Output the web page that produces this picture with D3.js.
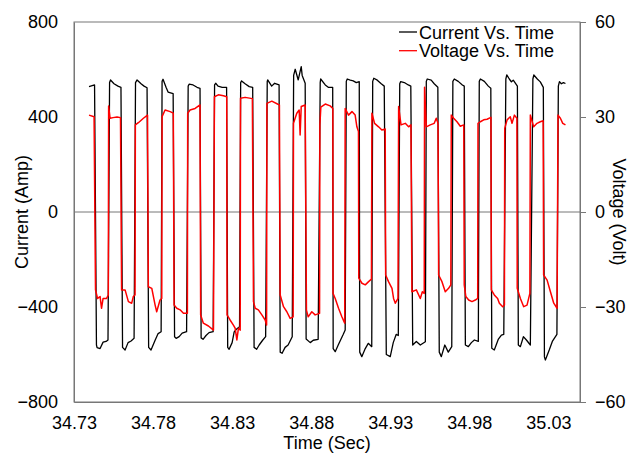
<!DOCTYPE html>
<html lang="en">
<head>
  <meta charset="UTF-8">
  <script src="https://cdn.jsdelivr.net/npm/d3@7/dist/d3.min.js"></script>
  <title>Current and Voltage</title>
  <style>
    body { margin: 0; background: #fff; }
    svg text { font-family: "Liberation Sans", Arial, sans-serif; fill: #000; }
    .trace { fill: none; stroke-linejoin: round; }
  </style>
</head>
<body>
<script>
  // values, one row per half cycle
  const currentTime = [
    34.7395, 34.7430,
    34.7442, 34.7446, 34.7465, 34.7484, 34.7503, 34.7515,
    34.7525, 34.7531, 34.7553, 34.7578, 34.7597,
    34.7607, 34.7623, 34.7642, 34.7661, 34.7680,
    34.7689, 34.7699, 34.7724, 34.7743, 34.7762,
    34.7772, 34.7787, 34.7813, 34.7832, 34.7851,
    34.7857, 34.7863, 34.7882, 34.7895, 34.7927,
    34.7936, 34.7946, 34.7965, 34.7984, 34.8012,
    34.8022, 34.8028, 34.8053, 34.8078, 34.8097,
    34.8104, 34.8116, 34.8135, 34.8154, 34.8180,
    34.8189, 34.8196, 34.8211, 34.8237, 34.8265,
    34.8272, 34.8281, 34.8300, 34.8313, 34.8325, 34.8347,
    34.8354, 34.8360, 34.8382, 34.8408, 34.8430,
    34.8439, 34.8455, 34.8471, 34.8493, 34.8512,
    34.8522, 34.8525, 34.8550, 34.8569, 34.8597,
    34.8604, 34.8616, 34.8635, 34.8654, 34.8680,
    34.8689, 34.8699, 34.8718, 34.8737, 34.8743, 34.8762,
    34.8768, 34.8794, 34.8813, 34.8844,
    34.8857, 34.8860, 34.8889, 34.8908, 34.8936,
    34.8939, 34.8952, 34.8971, 34.9003, 34.9015,
    34.9022, 34.9028, 34.9047, 34.9066, 34.9085, 34.9104,
    34.9107, 34.9120, 34.9142, 34.9161, 34.9183,
    34.9189, 34.9196, 34.9218, 34.9243, 34.9262,
    34.9275, 34.9300, 34.9319, 34.9338, 34.9351,
    34.9360, 34.9366, 34.9389, 34.9414, 34.9430,
    34.9442, 34.9465, 34.9490, 34.9522,
    34.9528, 34.9534, 34.9559, 34.9578, 34.9601,
    34.9610, 34.9623, 34.9645, 34.9667, 34.9689,
    34.9696, 34.9705, 34.9730, 34.9756, 34.9768,
    34.9775, 34.9794, 34.9813, 34.9832, 34.9857,
    34.9863, 34.9870, 34.9895, 34.9920, 34.9936,
    34.9942, 34.9958, 34.9984, 35.0003, 35.0018,
    35.0031, 35.0037, 35.0053, 35.0066, 35.0078, 35.0104,
    35.0110, 35.0123, 35.0142, 35.0161, 35.0186,
    35.0202, 35.0208, 35.0230, 35.0249, 35.0268,
    35.0275, 35.0281, 35.0306, 35.0325, 35.0354,
    35.0363, 35.0370, 35.0382, 35.0395, 35.0408
  ];
  const currentAmp = [
    528, 535,
    -560, -571, -575, -548, -545, -539,
    545, 556, 540, 530, 525,
    -570, -581, -550, -543, -532,
    545, 556, 540, 530, 523,
    -570, -581, -540, -512, -504,
    550, 559, 525, 505, 498,
    -525, -532, -525, -510, -504,
    530, 538, 535, 525, 521,
    -530, -536, -520, -508, -504,
    535, 542, 530, 525, 525,
    -570, -578, -550, -505, -495, -483,
    545, 552, 540, 528, 525,
    -570, -578, -560, -540, -525,
    550, 556, 530, 542, 535,
    -590, -595, -570, -560, -525,
    575, 601, 556, 612, 575, 542,
    -535, -550, -540, -536,
    545, 560, 535, 525, 525,
    -575, -588, -560, -515, -497,
    550, 560, 555, 552, 545, 549,
    -590, -609, -575, -553, -567,
    550, 563, 555, 540, 530,
    -600, -609, -550, -515, -520,
    540, 549, 545, 535, 530,
    -560, -545, -560, -546,
    550, 560, 555, 540, 525,
    -590, -609, -560, -590, -567,
    550, 560, 550, 535, 530,
    -560, -567, -550, -539, -545,
    550, 560, 550, 530, 521,
    -574, -581, -535, -518, -515,
    560, 577, 560, 548, 555, 530,
    -560, -567, -525, -539, -560,
    560, 577, 560, 548, 525,
    -610, -623, -580, -545, -515,
    530, 549, 540, 545, 541
  ];

  const voltageTime = [
    34.7395, 34.7427,
    34.7436, 34.7449, 34.7465, 34.7474, 34.7484, 34.7506, 34.7517,
    34.7519, 34.7528, 34.7547, 34.7572, 34.7594,
    34.7601, 34.7623, 34.7644, 34.7665, 34.7675, 34.7686,
    34.7688, 34.7707, 34.7739, 34.7765,
    34.7770, 34.7792, 34.7813, 34.7823, 34.7844, 34.7855,
    34.7857, 34.7876, 34.7908, 34.7928,
    34.7933, 34.7950, 34.7971, 34.7992, 34.8017,
    34.8019, 34.8034, 34.8066, 34.8097,
    34.8101, 34.8118, 34.8150, 34.8182,
    34.8188, 34.8213, 34.8245, 34.8266,
    34.8268, 34.8287, 34.8308, 34.8319, 34.8330, 34.8340, 34.8351,
    34.8353, 34.8382, 34.8428,
    34.8435, 34.8446, 34.8466, 34.8488, 34.8509, 34.8518,
    34.8520, 34.8551, 34.8599,
    34.8604, 34.8625, 34.8646, 34.8667, 34.8686,
    34.8688, 34.8709, 34.8724, 34.8730, 34.8737, 34.8762,
    34.8770, 34.8781, 34.8804, 34.8825, 34.8853,
    34.8855, 34.8861, 34.8889, 34.8920, 34.8937,
    34.8938, 34.8952, 34.8973, 34.8994, 34.9012,
    34.9015, 34.9036, 34.9058, 34.9078, 34.9089, 34.9099,
    34.9101, 34.9121, 34.9142, 34.9163, 34.9181,
    34.9184, 34.9201, 34.9226, 34.9247, 34.9268,
    34.9271, 34.9289, 34.9311, 34.9321, 34.9332, 34.9349,
    34.9353, 34.9368, 34.9395, 34.9416, 34.9431,
    34.9437, 34.9465, 34.9490, 34.9503, 34.9515,
    34.9517, 34.9528, 34.9553, 34.9578, 34.9591, 34.9602,
    34.9606, 34.9627, 34.9648, 34.9669, 34.9683,
    34.9686, 34.9701, 34.9722, 34.9743, 34.9765,
    34.9768, 34.9778, 34.9796, 34.9817, 34.9838, 34.9853,
    34.9855, 34.9870, 34.9891, 34.9912, 34.9937,
    34.9939, 34.9958, 34.9979, 34.9990, 35.0011, 35.0022,
    35.0024, 35.0039, 35.0059, 35.0070, 35.0085, 35.0101,
    35.0103, 35.0123, 35.0144, 35.0165, 35.0183,
    35.0186, 35.0207, 35.0228, 35.0249, 35.0267,
    35.0270, 35.0292, 35.0313, 35.0334, 35.0355,
    35.0361, 35.0376, 35.0391, 35.0408
  ];
  const voltageVolt = [
    30.6, 30.1,
    -24.6, -27.3, -26.7, -30.4, -27.3, -27.3, -26.2,
    33.5, 29.6, 29.8, 30.0, 29.8,
    -24.6, -24.6, -28.3, -28.8, -26.7, -26.2,
    27.5, 28.2, 29.6, 30.6,
    -23.6, -24.1, -29.4, -31.5, -27.8, -27.3,
    30.1, 32.2, 31.7, 31.2,
    -29.4, -30.4, -30.9, -32.0, -32.0,
    31.2, 32.2, 32.7, 33.8,
    -32.5, -35.1, -36.0, -37.3,
    36.4, 37.0, 36.7, 36.4,
    -32.5, -34.1, -35.7, -36.7, -40.4, -36.7, -37.3,
    35.9, 36.2, 35.8,
    -28.3, -30.4, -30.9, -32.5, -34.1, -35.7,
    34.3, 35.0, 33.8,
    -26.2, -29.9, -31.5, -33.6, -33.1,
    28.0, 31.2, 32.2, 24.3, 33.3, 33.8,
    -31.0, -33.1, -31.5, -32.5, -32.0,
    27.5, 33.1, 34.1, 33.5, 32.7,
    -25.7, -27.3, -30.4, -33.1, -35.1,
    32.7, 30.6, 31.7, 30.6, 26.9, 25.4,
    -20.9, -22.5, -23.0, -22.0, -21.2,
    31.2, 28.0, 26.9, 25.9, 26.2,
    -19.9, -22.0, -24.1, -27.3, -28.8, -27.3,
    33.3, 27.5, 28.0, 26.9, 27.5,
    -25.2, -24.6, -27.3, -25.2, -25.7,
    39.4, 26.9, 27.5, 28.0, 29.6, 28.0,
    -19.9, -22.0, -25.2, -24.1, -23.0,
    30.6, 29.6, 28.5, 27.1, 27.5,
    -23.0, -26.7, -27.8, -28.3, -27.8, -27.3,
    28.0, 28.5, 29.1, 29.3, 29.9,
    -24.6, -26.2, -27.3, -28.8, -29.9, -29.4,
    26.4, 29.1, 30.1, 28.0, 30.6, 29.6,
    -24.1, -27.3, -29.9, -29.4, -25.7,
    30.6, 26.9, 28.0, 28.5, 28.8,
    -19.9, -21.5, -25.2, -28.8, -30.4,
    30.6, 29.6, 28.0, 27.5
  ];

  const xTicks = [34.73, 34.78, 34.83, 34.88, 34.93, 34.98, 35.03];
  const leftTicks = [-800, -400, 0, 400, 800];
  const rightTicks = [-60, -30, 0, 30, 60];
  const legendLabels = ["Current Vs. Time", "Voltage Vs. Time"];
  const legendColors = ["#000000", "#ff0000"];

  const W = 631, H = 453;
  const m = { left: 74, right: 51, top: 22, bottom: 51 };

  const svg = d3.select("body").append("svg")
    .attr("width", W)
    .attr("height", H);

  const x = d3.scaleLinear().domain([34.73, 35.05]).range([m.left, W - m.right]);
  const yL = d3.scaleLinear().domain([-800, 800]).range([H - m.bottom, m.top]);
  const yR = d3.scaleLinear().domain([-60, 60]).range([H - m.bottom, m.top]);

  // frame + zero line
  svg.append("rect")
    .attr("x", m.left).attr("y", m.top)
    .attr("width", W - m.left - m.right).attr("height", H - m.top - m.bottom)
    .attr("fill", "none").attr("stroke", "#777").attr("stroke-width", 1);
  svg.append("line")
    .attr("x1", m.left).attr("x2", W - m.right)
    .attr("y1", yL(0)).attr("y2", yL(0))
    .attr("stroke", "#777").attr("stroke-width", 1);

  // axes
  const gx = svg.append("g")
    .attr("transform", `translate(0,${H - m.bottom})`)
    .call(d3.axisBottom(x).tickValues(xTicks).tickFormat(d3.format(".2f")).tickSize(0).tickPadding(14));
  const gl = svg.append("g")
    .attr("transform", `translate(${m.left},0)`)
    .call(d3.axisLeft(yL).tickValues(leftTicks).tickSize(0).tickPadding(16));
  const gr = svg.append("g")
    .attr("transform", `translate(${W - m.right},0)`)
    .call(d3.axisRight(yR).tickValues(rightTicks).tickSize(6).tickPadding(9));

  [gx, gl, gr].forEach(g => {
    g.select(".domain").attr("stroke", "#777");
    g.selectAll(".tick line").attr("stroke", "#777");
    g.selectAll("text")
      .style("font-family", '"Liberation Sans", Arial, sans-serif')
      .style("font-size", "18px")
      .attr("fill", "#000");
  });

  // traces
  const currentLine = d3.line().x((d, i) => x(currentTime[i])).y(d => yL(d));
  const voltageLine = d3.line().x((d, i) => x(voltageTime[i])).y(d => yR(d));

  svg.append("path").datum(currentAmp)
    .attr("class", "trace")
    .attr("d", currentLine)
    .attr("stroke", legendColors[0]).attr("stroke-width", 1.3);
  svg.append("path").datum(voltageVolt)
    .attr("class", "trace")
    .attr("d", voltageLine)
    .attr("stroke", legendColors[1]).attr("stroke-width", 1.5);

  // titles
  svg.append("text")
    .attr("x", (m.left + W - m.right) / 2).attr("y", 449)
    .attr("text-anchor", "middle").style("font-size", "18px")
    .text("Time (Sec)");
  svg.append("text")
    .attr("transform", `translate(28,${yL(0)}) rotate(-90)`)
    .attr("text-anchor", "middle").style("font-size", "18px")
    .text("Current (Amp)");
  svg.append("text")
    .attr("transform", `translate(613,${yL(0)}) rotate(90)`)
    .attr("text-anchor", "middle").style("font-size", "18px")
    .text("Voltage (Volt)");

  // legend
  const lg = svg.selectAll("g.legend").data(legendLabels).enter().append("g")
    .attr("class", "legend")
    .attr("transform", (d, i) => `translate(399,${32 + i * 18.7})`);
  lg.append("line")
    .attr("x1", 0).attr("x2", 18).attr("y1", 0).attr("y2", 0)
    .attr("stroke", (d, i) => legendColors[i]).attr("stroke-width", 1.3);
  lg.append("text")
    .attr("x", 20).attr("y", 6.5)
    .style("font-size", "18px")
    .text(d => d);
</script>
</body>
</html>
